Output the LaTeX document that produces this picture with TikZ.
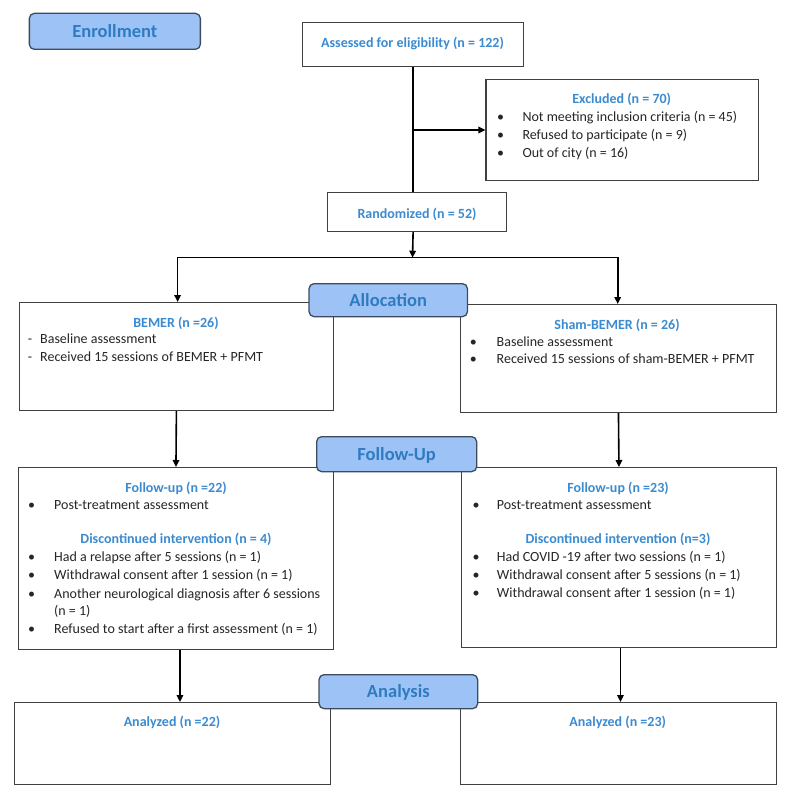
\documentclass[tikz,border=0pt]{standalone}
\usepackage{fontspec}
\setmainfont{Carlito}
\usetikzlibrary{arrows.meta}
\definecolor{ttlc}{HTML}{3B8BD0}
\definecolor{lblc}{HTML}{2F7BC2}
\definecolor{lblfill}{HTML}{9DC3F6}
\definecolor{lbldraw}{HTML}{3E4B5E}
\definecolor{boxdraw}{HTML}{404040}
\definecolor{bodyc}{HTML}{262626}
\begin{document}
\begin{tikzpicture}[x=1pt,y=-1pt,
  box/.style={draw=boxdraw, line width=1.2pt, fill=white, rectangle, anchor=north west, inner sep=0pt},
  lab/.style={draw=lbldraw, line width=1.3pt, fill=lblfill, rounded corners=5pt, anchor=north west, inner sep=0pt,
    font=\fontsize{18.5}{22}\selectfont\bfseries, text=lblc, text height=11.8pt, text depth=0pt},
  ttl/.style={anchor=base, inner sep=0pt, font=\fontsize{14}{17}\selectfont\bfseries, text=ttlc},
  txt/.style={anchor=base west, inner sep=0pt, font=\fontsize{14}{17}\selectfont, text=bodyc},
  bul/.style={anchor=base, inner sep=0pt, font=\fontsize{14}{17}\selectfont, text=bodyc},
  arr/.style={line width=1.6pt, -{Triangle[length=7pt,width=6.5pt]}, black},
  dbl/.style={line width=1.6pt, {Triangle[length=7pt,width=6.5pt]}-{Triangle[length=7pt,width=6.5pt]}, black}]
\useasboundingbox (0,0) rectangle (789,799);
\fill[white] (0,0) rectangle (789,799);

% boxes
\node[box, minimum width=221pt, minimum height=44.3pt] (assess) at (302,21.7) {};
\node[box, minimum width=272.6pt, minimum height=101pt] (excl) at (485.4,79) {};
\node[box, minimum width=179pt, minimum height=39pt] (rand) at (327,192) {};
\node[box, minimum width=314.4pt, minimum height=108pt] (bemer) at (18.6,302) {};
\node[box, minimum width=315.7pt, minimum height=108pt] (sham) at (460,304) {};
\node[box, minimum width=315.3pt, minimum height=181.7pt] (fu1) at (17.7,467) {};
\node[box, minimum width=315.3pt, minimum height=180pt] (fu2) at (460.7,467) {};
\node[box, minimum width=316pt, minimum height=82pt] (an1) at (14,702) {};
\node[box, minimum width=316pt, minimum height=82pt] (an2) at (460,702) {};

% texts
\node[ttl] (assessT) at (412.5,47.5) {Assessed for eligibility (n = 122)};

\node[ttl] (exT) at (621.7,103.5) {Excluded (n = 70)};
\node[bul] (exb1) at (500.7,122) {•};
\node[txt] (ex1) at (522.3,122) {Not meeting inclusion criteria (n = 45)};
\node[bul] (exb2) at (500.7,139.5) {•};
\node[txt] (ex2) at (522.3,139.5) {Refused to participate (n = 9)};
\node[bul] (exb3) at (500.7,158) {•};
\node[txt] (ex3) at (522.3,158) {Out of city (n = 16)};

\node[ttl] (randT) at (417,218.5) {Randomized (n = 52)};

\node[ttl] (bemT) at (176,327.5) {BEMER (n =26)};
\node[bul] (bemd1) at (30,343.5) {-};
\node[txt] (bem1) at (40,343.5) {Baseline assessment};
\node[bul] (bemd2) at (30,361.5) {-};
\node[txt] (bem2) at (40,361.5) {Received 15 sessions of BEMER + PFMT};

\node[ttl] (shT) at (617,329.5) {Sham-BEMER (n = 26)};
\node[bul] (shb1) at (473.3,346.5) {•};
\node[txt] (sh1) at (496.5,346.5) {Baseline assessment};
\node[bul] (shb2) at (473.3,363.5) {•};
\node[txt] (sh2) at (496.5,363.5) {Received 15 sessions of sham-BEMER + PFMT};

\node[ttl] (fu1T) at (176,492) {Follow-up (n =22)};
\node[bul] (fu1b1) at (31.7,509.5) {•};
\node[txt] (fu1a) at (54,509.5) {Post-treatment assessment};
\node[ttl] (fu1D) at (176,543.5) {Discontinued intervention (n = 4)};
\node[bul] (fu1b2) at (31.7,561.8) {•};
\node[txt] (fu1c) at (54,561.8) {Had a relapse after 5 sessions (n = 1)};
\node[bul] (fu1b3) at (31.7,579.5) {•};
\node[txt] (fu1d) at (54,579.5) {Withdrawal consent after 1 session (n = 1)};
\node[bul] (fu1b4) at (31.7,598.2) {•};
\node[txt] (fu1e) at (54,598.2) {Another neurological diagnosis after 6 sessions};
\node[txt] (fu1f) at (54,615.5) {(n = 1)};
\node[bul] (fu1b5) at (31.7,633.5) {•};
\node[txt] (fu1g) at (54,633.5) {Refused to start after a first assessment (n = 1)};

\node[ttl] (fu2T) at (618,492.5) {Follow-up (n =23)};
\node[bul] (fu2b1) at (476,509.5) {•};
\node[txt] (fu2a) at (496.7,509.5) {Post-treatment assessment};
\node[ttl] (fu2D) at (618,543.5) {Discontinued intervention (n=3)};
\node[bul] (fu2b2) at (476,561.5) {•};
\node[txt] (fu2c) at (496.7,561.5) {Had COVID -19 after two sessions (n = 1)};
\node[bul] (fu2b3) at (476,579.5) {•};
\node[txt] (fu2d) at (496.7,579.5) {Withdrawal consent after 5 sessions (n = 1)};
\node[bul] (fu2b4) at (476,597.5) {•};
\node[txt] (fu2e) at (496.7,597.5) {Withdrawal consent after 1 session (n = 1)};

\node[ttl] (an1T) at (172,726.5) {Analyzed (n =22)};
\node[ttl] (an2T) at (617.7,726.5) {Analyzed (n =23)};

% connectors
\coordinate (br) at (412.5,130);
\draw[line width=1.6pt] (assess.south) -- (assess.south |- rand.north);
\draw[arr] (br) -- (br -| excl.west);
\coordinate (split) at (412.5,257.7);
\draw[arr] (assess.south |- rand.south) -- (split);
\coordinate (splitL) at (177.6,257.7);
\coordinate (splitR) at (617.7,257.7);
\coordinate (bemIn) at (177.6,302);
\coordinate (shIn) at (617.7,304);
\draw[dbl] (bemIn) -- (splitL) -- (splitR) -- (shIn);
\draw[arr] (bemer.south) -- (fu1.north);
\draw[arr] (sham.south) -- (fu2.north);
\draw[arr] ([xshift=4pt]fu1.south) -- ([xshift=4pt]fu1.south |- an1.north);
\draw[arr] ([xshift=1.5pt]fu2.south) -- ([xshift=1.5pt]fu2.south |- an2.north);

% stage labels
\node[lab, minimum width=171pt, minimum height=36pt] (enroll) at (28.7,12.7) {Enrollment};
\node[lab, minimum width=158.4pt, minimum height=33pt] (alloc) at (308.4,283) {Allocation};
\node[lab, minimum width=160pt, minimum height=35pt] (follow) at (316,436) {Follow-Up};
\node[lab, minimum width=158.6pt, minimum height=34pt] (analysis) at (318.4,674) {Analysis};
\end{tikzpicture}
\end{document}
